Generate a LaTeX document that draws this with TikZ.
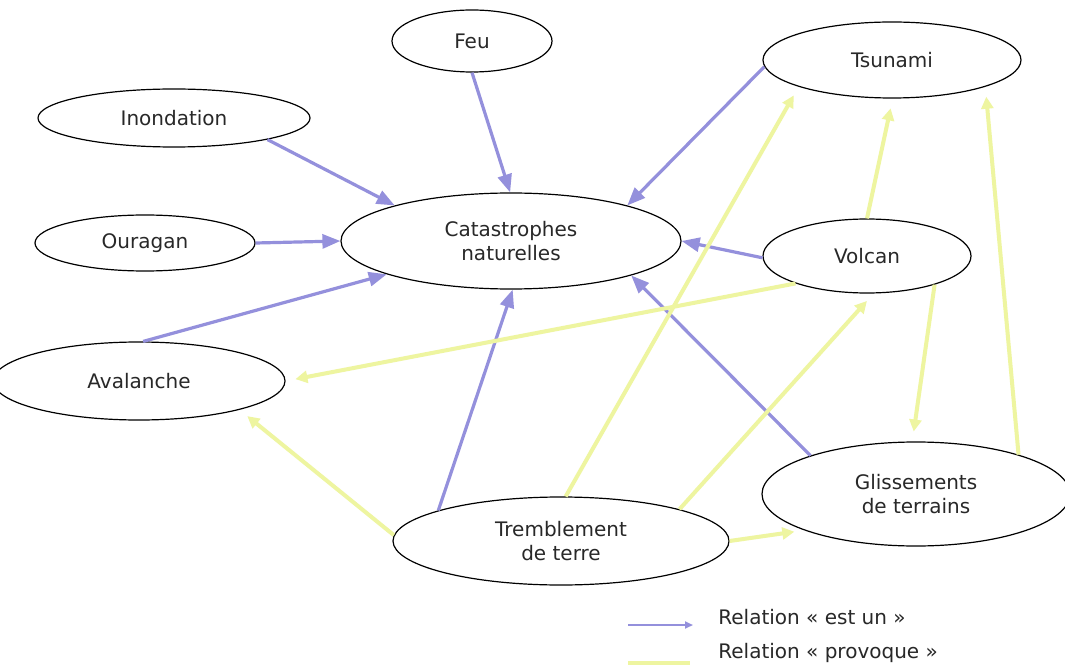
\documentclass[tikz,border=0pt]{standalone}
\usepackage{fontspec}
\setmainfont{DejaVu Sans}
\usetikzlibrary{shapes.geometric,arrows.meta}
\definecolor{isacol}{RGB}{148,144,220}
\definecolor{causecol}{RGB}{238,245,160}
\definecolor{labelcol}{RGB}{40,40,40}
\begin{document}
\begin{tikzpicture}[x=0.5pt,y=-0.5pt,
  concept/.style={ellipse,draw=black,line width=0.6pt,fill=white,inner sep=0pt,
    align=center,font=\fontsize{10}{12}\selectfont,text=labelcol},
  isa/.style={draw=isacol,line width=1.6pt,-{Triangle[length=9pt,width=7pt]}},
  cause/.style={draw=causecol,line width=2pt,-{Triangle[length=6pt,width=6pt]},shorten >=5pt},
  legendtext/.style={anchor=base west,inner sep=0pt,font=\fontsize{10}{12}\selectfont,text=labelcol}]
\useasboundingbox (0,0) rectangle (1065,668);
\fill[white] (0,0) rectangle (1065,668);

% concepts (minimum width/height in pt = semi-axes in picture units)
\node[concept,minimum width=80pt,minimum height=31pt]  (feu)   at (472,41)  {Feu};
\node[concept,minimum width=136pt,minimum height=29pt] (inond) at (174,118) {Inondation};
\node[concept,minimum width=129pt,minimum height=38pt] (tsun)  at (892,60)  {Tsunami};
\node[concept,minimum width=170pt,minimum height=48pt] (cat)   at (511,241) {Catastrophes\\naturelles};
\node[concept,minimum width=110pt,minimum height=28pt] (ourag) at (145,243) {Ouragan};
\node[concept,minimum width=104pt,minimum height=37pt] (volc)  at (867,256) {Volcan};
\node[concept,minimum width=146pt,minimum height=39pt] (aval)  at (139,381) {Avalanche};
\node[concept,minimum width=168pt,minimum height=44pt] (trem)  at (561,541) {Tremblement\\de terre};
\node[concept,minimum width=154pt,minimum height=52pt] (gliss) at (916,494) {Glissements\\de terrains};

% relation "est un"
\draw[isa] (inond.-13.8) -- (cat.163.8);
\draw[isa] (feu.-90) -- (cat.91);
\draw[isa] (ourag.0) -- (cat.180);
\draw[isa] (aval.84) -- (cat.-165.2);
\draw[isa] (trem.166.2) -- (cat.-88);
\draw[isa] (tsun.-177.8) -- (cat.17.3);
\draw[isa] (volc.-179) -- (cat.0);
\draw[isa] (gliss.160.3) -- (cat.-16.6);

% relation "provoque"
\draw[cause] (volc.-159.3) -- (aval.0);
\draw[cause] (trem.178.6) -- (aval.-16.5);
\draw[cause] (trem.84.8) -- (tsun.-164);
\draw[cause] (trem.15.6) -- (volc.-80);
\draw[cause] (trem.0) -- (gliss.-162.8);
\draw[cause] (volc.90) -- (tsun.-89);
\draw[cause] (volc.-23) -- (gliss.94.4);
\draw[cause] (gliss.21.6) -- (tsun.-16.9);

% legend
\coordinate (isaA) at (628,625);
\coordinate (isaB) at (693,625);
\coordinate (causeA) at (628,663);
\coordinate (causeB) at (690,663);
\draw[draw=isacol,line width=1.4pt,-{Triangle[length=4pt,width=3.5pt]}] (isaA) -- (isaB);
\draw[draw=causecol,line width=2pt] (causeA) -- (causeB);
\node[legendtext] (lisa)   at (718,624) {Relation « est un »};
\node[legendtext] (lcause) at (718,658) {Relation « provoque »};
\end{tikzpicture}
\end{document}
